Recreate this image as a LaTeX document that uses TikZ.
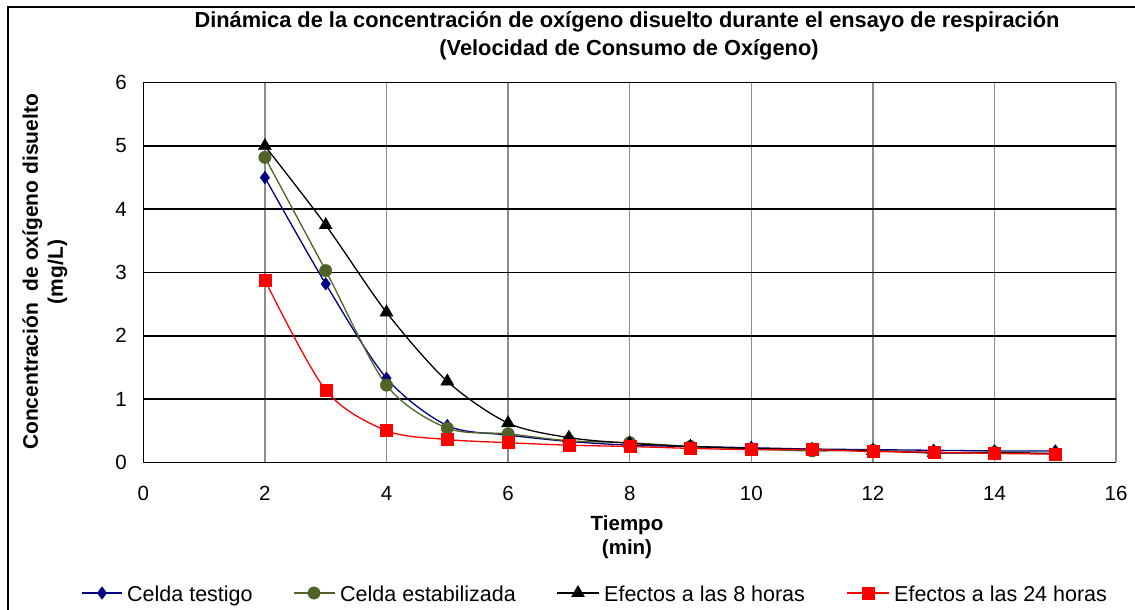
\documentclass[tikz,border=0pt]{standalone}
\usepackage{fontspec}
\setmainfont{Liberation Sans}
\usetikzlibrary{plotmarks}
\definecolor{navyser}{HTML}{000080}
\definecolor{oliveser}{HTML}{4F6228}
\definecolor{redser}{HTML}{FF0000}
\definecolor{gridgray}{HTML}{8C8C8C}
\tikzset{
  ticklbl/.style={font=\fontsize{20.5}{24}\selectfont, inner sep=0pt},
  axttl/.style={font=\bfseries\fontsize{20.5}{24}\selectfont, align=center, inner sep=0pt},
  ttl/.style={font=\bfseries\fontsize{21.8}{28}\selectfont, align=center, inner sep=0pt},
  leglbl/.style={font=\fontsize{21.5}{24}\selectfont, anchor=base west, inner sep=0pt},
  sernavy/.style={draw=navyser, line width=1.3pt, mark=diamond*, mark size=6.3pt,
     mark options={fill=navyser, draw=navyser, line width=0.4pt}},
  serolive/.style={draw=oliveser, line width=1.3pt, mark=*, mark size=6.2pt,
     mark options={fill=oliveser, draw=oliveser, line width=0.4pt}},
  serblack/.style={draw=black, line width=1.3pt, mark=triangle*, mark size=7.5pt,
     mark options={fill=black, draw=black, line width=0.4pt}},
  serred/.style={draw=redser, line width=1.3pt, mark=square*, mark size=6pt,
     mark options={fill=redser, draw=redser, line width=0.4pt}},
}
\begin{document}
\begin{tikzpicture}[x=1pt,y=-1pt]
\useasboundingbox (0,0) rectangle (1135,610);
\fill[white] (0,0) rectangle (1135,610);
% outer frame
\draw[line width=2pt] (8,615) -- (8,7) -- (1140,7);
% title
\node[ttl] (title1) at (627,22) {Dinámica de la concentración de oxígeno disuelto durante el ensayo de respiración};
\node[ttl] (title2) at (629,50) {(Velocidad de Consumo de Oxígeno)};
% plot area
\begin{scope}[shift={(143.3,462.3)}, x={(60.8pt,0pt)}, y={(0pt,63.27pt)}]
  \foreach \i in {2,4,...,16} \draw[gridgray, line width=1.4pt] (\i,0) -- (\i,6);
  \foreach \j in {1,...,6} \draw[black, line width=1.6pt] (0,\j) -- (16,\j);
  \draw[black, line width=1.6pt] (0,6) -- (0,0) -- (16,0);
  \foreach \i in {0,2,...,16} \node[ticklbl] at (\i,-0.49) {\i};
  \foreach \j in {0,...,6} \node[ticklbl, anchor=east] at (-0.27,\j) {\j};
  % series
  \draw[sernavy] plot[smooth, tension=0.5] coordinates {(2,4.5) (3,2.82) (4,1.33) (5,0.58) (6,0.43) (7,0.33) (8,0.27) (9,0.25) (10,0.23) (11,0.21) (12,0.20) (13,0.19) (14,0.18) (15,0.18)};
  \draw[serolive] plot[smooth, tension=0.5] coordinates {(2,4.82) (3,3.03) (4,1.22) (5,0.54) (6,0.45) (7,0.34) (8,0.31) (9,0.25) (10,0.21) (11,0.18) (12,0.19) (13,0.15) (14,0.16) (15,0.13)};
  \draw[serblack] plot[smooth, tension=0.5] coordinates {(2,5.0) (3,3.75) (4,2.37) (5,1.28) (6,0.62) (7,0.39) (8,0.30) (9,0.25) (10,0.22) (11,0.20) (12,0.18) (13,0.15) (14,0.15) (15,0.14)};
  \draw[serred] plot[smooth, tension=0.5] coordinates {(2,2.88) (3,1.14) (4,0.50) (5,0.36) (6,0.31) (7,0.27) (8,0.25) (9,0.22) (10,0.20) (11,0.20) (12,0.17) (13,0.16) (14,0.14) (15,0.13)};
\end{scope}
% axis titles
\node[axttl] (xttl) at (627,537) {Tiempo\\(min)};
\node[axttl, rotate=90, font=\bfseries\fontsize{21}{25}\selectfont] (yttl) at (45,272) {Concentración\ \ de oxígeno disuelto\\(mg/L)};
% legend
\coordinate (l1a) at (82,593); \coordinate (l1b) at (122,593); \coordinate (l1m) at (102,593);
\draw[sernavy, mark=none] (l1a) -- (l1b);
\path[sernavy] plot[only marks] coordinates {(l1m)};
\node[leglbl] (leg1) at (127,601) {Celda testigo};
\coordinate (l2a) at (294,593); \coordinate (l2b) at (335,593); \coordinate (l2m) at (314,593);
\draw[serolive, mark=none] (l2a) -- (l2b);
\path[serolive] plot[only marks] coordinates {(l2m)};
\node[leglbl] (leg2) at (340,601) {Celda estabilizada};
\coordinate (l3a) at (557,593); \coordinate (l3b) at (599,593); \coordinate (l3m) at (578,593);
\draw[serblack, mark=none] (l3a) -- (l3b);
\path[serblack] plot[only marks] coordinates {(l3m)};
\node[leglbl] (leg3) at (604,601) {Efectos a las 8 horas};
\coordinate (l4a) at (847,593); \coordinate (l4b) at (889,593); \coordinate (l4m) at (868,593);
\draw[serred, mark=none] (l4a) -- (l4b);
\path[serred] plot[only marks] coordinates {(l4m)};
\node[leglbl] (leg4) at (894,601) {Efectos a las 24 horas};
\end{tikzpicture}
\end{document}
